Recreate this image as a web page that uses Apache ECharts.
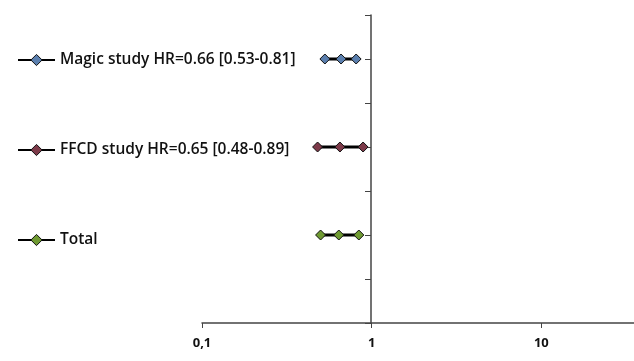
<!DOCTYPE html>
<html>
<head>
<meta charset="utf-8">
<script src="https://cdn.jsdelivr.net/npm/echarts@6/dist/echarts.min.js"></script>
<style>
html,body{margin:0;padding:0;background:#fff;}
#chart{width:634px;height:361px;}
</style>
</head>
<body>
<div id="chart"></div>
<script>
// Data
var studies = ['Magic study HR=0.66 [0.53-0.81]', 'FFCD study HR=0.65 [0.48-0.89]', 'Total'];
var rowPos = [6, 4, 2];
var lowerCI = [0.53, 0.48, 0.50];
var hazardRatio = [0.66, 0.65, 0.64];
var upperCI = [0.81, 0.89, 0.84];
var markerColors = ['#5b7fae', '#7d3a49', '#6f9a32'];
var xTicks = [0.1, 1, 10, 100];

var chart = echarts.init(document.getElementById('chart'), null, {renderer: 'canvas'});

var series = studies.map(function (name, i) {
  return {
    name: name,
    type: 'line',
    symbol: 'diamond',
    symbolSize: 10,
    lineStyle: {color: '#000', width: 3},
    itemStyle: {color: markerColors[i], borderColor: '#111', borderWidth: 1},
    data: [[lowerCI[i], rowPos[i]], [hazardRatio[i], rowPos[i]], [upperCI[i], rowPos[i]]],
    z: 3
  };
});

chart.setOption({
  animation: false,
  backgroundColor: '#fff',
  grid: {left: 202, width: 509, top: 15, bottom: 38, containLabel: false, outerBoundsMode: 'none'},
  legend: {
    orient: 'vertical',
    left: 12,
    top: 47,
    itemWidth: 37,
    itemHeight: 14,
    itemGap: 74,
    data: studies,
    textStyle: {fontFamily: 'Open Sans', fontSize: 15.5, color: '#111', fontWeight: 600, lineHeight: 14},
    lineStyle: {color: '#000', width: 2},
    itemStyle: {borderColor: '#111', borderWidth: 1}
  },
  xAxis: {
    type: 'log',
    min: xTicks[0],
    max: xTicks[xTicks.length - 1],
    logBase: 10,
    axisLine: {show: true, lineStyle: {color: '#444', width: 1.5}},
    axisTick: {show: true, length: 5, lineStyle: {color: '#444'}},
    minorTick: {show: false},
    splitLine: {show: false},
    axisLabel: {
      margin: 14,
      fontFamily: 'Open Sans',
      fontWeight: 'bold',
      fontSize: 13,
      color: '#111',
      formatter: function (v) { return String(v).replace('.', ','); }
    }
  },
  yAxis: {
    type: 'value',
    min: 0,
    max: 7,
    interval: 1,
    offset: -169,
    axisLine: {show: true, lineStyle: {color: '#444', width: 1.5}},
    axisTick: {show: true, length: 6, lineStyle: {color: '#444'}},
    axisLabel: {show: false},
    splitLine: {show: false}
  },
  series: series
});
</script>
</body>
</html>
